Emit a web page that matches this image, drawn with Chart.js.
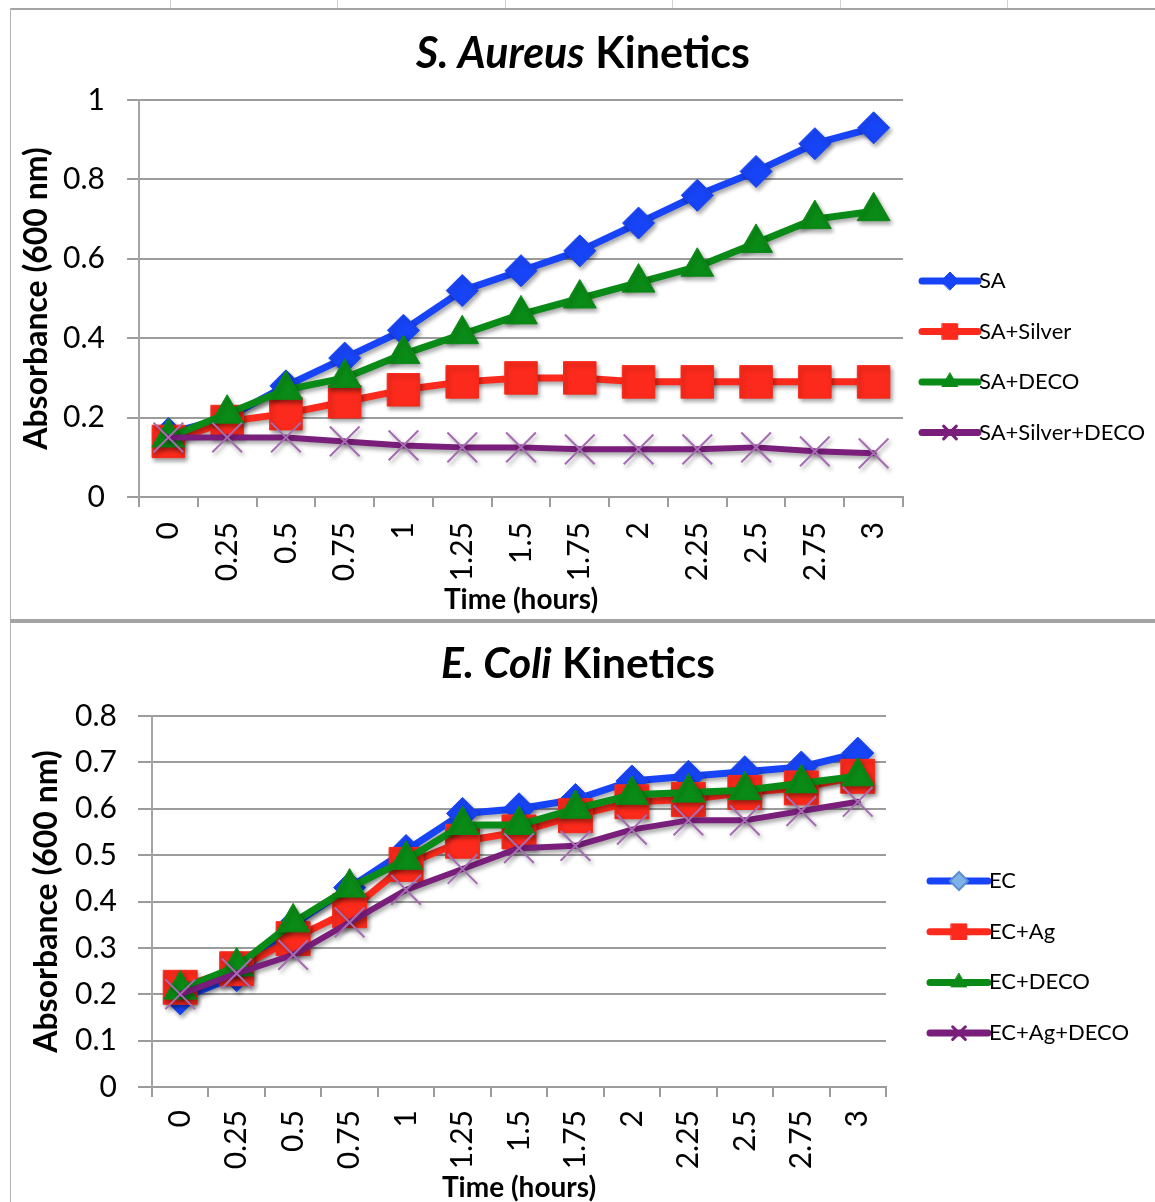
<!DOCTYPE html>
<html><head><meta charset="utf-8">
<script src="https://cdn.jsdelivr.net/npm/chart.js@4.4.0/dist/chart.umd.min.js"></script>
<style>
html,body{margin:0;padding:0;background:#fff;}
body{width:1155px;height:1202px;position:relative;overflow:hidden;}
.ln{position:absolute;}
canvas{position:absolute;}
</style></head><body>
<div class="ln" style="left:170px;top:0;width:1px;height:8px;background:#d0d0d0"></div>
<div class="ln" style="left:337px;top:0;width:1px;height:8px;background:#d0d0d0"></div>
<div class="ln" style="left:505px;top:0;width:1px;height:8px;background:#d0d0d0"></div>
<div class="ln" style="left:672px;top:0;width:1px;height:8px;background:#d0d0d0"></div>
<div class="ln" style="left:840px;top:0;width:1px;height:8px;background:#d0d0d0"></div>
<div class="ln" style="left:1007px;top:0;width:1px;height:8px;background:#d0d0d0"></div>
<div class="ln" style="left:10px;top:8px;width:1145px;height:2px;background:#a4a4a4"></div>
<div class="ln" style="left:10px;top:8px;width:1px;height:1194px;background:#b4b4b4"></div>
<div class="ln" style="left:10px;top:619px;width:1145px;height:4px;background:#a4a4a4"></div>
<canvas id="c1" width="1144" height="607" style="left:11px;top:11px"></canvas>
<canvas id="c2" width="1144" height="578" style="left:11px;top:624px"></canvas>
<script>
// ---------- data ----------
const timeLabels = ['0','0.25','0.5','0.75','1','1.25','1.5','1.75','2','2.25','2.5','2.75','3'];

const saValues          = [0.16, 0.20, 0.28, 0.35, 0.42, 0.52, 0.57, 0.62, 0.69, 0.76, 0.82, 0.89, 0.93];
const saSilverValues    = [0.14, 0.19, 0.21, 0.24, 0.27, 0.29, 0.30, 0.30, 0.29, 0.29, 0.29, 0.29, 0.29];
const saDecoValues      = [0.15, 0.21, 0.27, 0.30, 0.36, 0.41, 0.46, 0.50, 0.54, 0.58, 0.64, 0.70, 0.72];
const saSilverDecoValues= [0.15, 0.15, 0.15, 0.14, 0.13, 0.125, 0.125, 0.12, 0.12, 0.12, 0.125, 0.115, 0.11];

const ecValues          = [0.19, 0.24, 0.35, 0.43, 0.51, 0.59, 0.60, 0.62, 0.66, 0.67, 0.68, 0.69, 0.72];
const ecAgValues        = [0.215, 0.255, 0.32, 0.38, 0.48, 0.53, 0.55, 0.585, 0.615, 0.62, 0.635, 0.645, 0.67];
const ecDecoValues      = [0.21, 0.26, 0.355, 0.43, 0.49, 0.565, 0.565, 0.60, 0.63, 0.635, 0.64, 0.655, 0.67];
const ecAgDecoValues    = [0.20, 0.245, 0.285, 0.355, 0.425, 0.47, 0.515, 0.52, 0.555, 0.575, 0.575, 0.595, 0.615];

const topYTicks = [0, 0.2, 0.4, 0.6, 0.8, 1];
const topYTickLabels = ['0', '0.2', '0.4', '0.6', '0.8', '1'];
const bottomYTicks = [0, 0.1, 0.2, 0.3, 0.4, 0.5, 0.6, 0.7, 0.8];
const bottomYTickLabels = ['0', '0.1', '0.2', '0.3', '0.4', '0.5', '0.6', '0.7', '0.8'];

const topSeriesNames = ['SA', 'SA+Silver', 'SA+DECO', 'SA+Silver+DECO'];
const bottomSeriesNames = ['EC', 'EC+Ag', 'EC+DECO', 'EC+Ag+DECO'];

// ---------- styles ----------
const BLUE = '#1744f6', RED = '#fb2a1c', GREEN = '#0a8a16', PURPLE = '#7a1e7b', XPURPLE = '#a56cb2';
Chart.defaults.font.family = 'Lato';
Chart.defaults.color = '#000';

const shadowPlugin = {
  id: 'markShadow',
  beforeDatasetDraw(chart) {
    const c = chart.ctx; c.save();
    c.shadowColor = 'rgba(0,0,0,0.35)'; c.shadowBlur = 4; c.shadowOffsetX = 2; c.shadowOffsetY = 3;
  },
  afterDatasetDraw(chart) { chart.ctx.restore(); }
};

const titlePlugin = {
  id: 'mixedTitle',
  afterDraw(chart, args, o) {
    const ctx = chart.ctx; ctx.save();
    ctx.fillStyle = '#000'; ctx.textBaseline = 'alphabetic'; ctx.textAlign = 'left';
    const f1 = 'italic bold ' + o.size + 'px Lato', f2 = 'bold ' + o.size + 'px Lato';
    ctx.font = f1; const w1 = ctx.measureText(o.italic).width;
    ctx.font = f2; const w2 = ctx.measureText(o.rest).width;
    const x = o.cx - (w1 + w2) / 2;
    ctx.font = f1; ctx.fillText(o.italic, x, o.baseline);
    ctx.font = f2; ctx.fillText(o.rest, x + w1, o.baseline);
    ctx.restore();
  }
};

const legendPlugin = {
  id: 'seriesLegend',
  afterDraw(chart, args, o) {
    const ctx = chart.ctx;
    chart.data.datasets.forEach((ds, i) => {
      const y = o.y0 + i * o.gap;
      ctx.save();
      ctx.strokeStyle = ds.borderColor; ctx.lineWidth = 7; ctx.lineCap = 'round';
      ctx.beginPath(); ctx.moveTo(o.x1, y); ctx.lineTo(o.x2, y); ctx.stroke();
      ctx.fillStyle = ds.legendFill || ds.pointBackgroundColor;
      ctx.strokeStyle = ds.legendStroke || ds.pointBorderColor;
      ctx.lineWidth = ds.legendBorder || 1;
      Chart.helpers.drawPoint(ctx, {pointStyle: ds.pointStyle, radius: ds.legendRadius || 9, rotation: 0, borderWidth: ds.legendBorder || 1}, (o.x1 + o.x2) / 2, y);
      ctx.fillStyle = '#000'; ctx.font = o.font; ctx.textBaseline = 'middle'; ctx.textAlign = 'left';
      ctx.fillText(ds.label, o.x2 + 1, y);
      ctx.restore();
    });
  }
};

function series(label, data, color, style, radius, order, extra) {
  return Object.assign({
    label, data, order,
    borderColor: color, backgroundColor: color,
    borderWidth: 7, borderJoinStyle: 'round', borderCapStyle: 'round', tension: 0,
    pointStyle: style, pointRadius: radius, pointHoverRadius: radius,
    pointBackgroundColor: color, pointBorderColor: color, pointBorderWidth: 1
  }, extra || {});
}

function axes(g) {
  return {
    x: {
      offset: true,
      grid: {offset: true, drawOnChartArea: false, drawTicks: true, tickLength: 10, color: '#9c9c9c', lineWidth: 2},
      border: {display: true, color: '#9c9c9c', width: 2},
      ticks: {font: {size: 30}, color: '#000', minRotation: 90, maxRotation: 90, autoSkip: false, padding: g.xPad},
      title: {display: true, text: 'Time (hours)', color: '#000', font: {size: 28, weight: 'bold', lineHeight: 1}, padding: {top: g.xTitlePad, bottom: g.xTitlePad}},
      afterFit: s => { s.height = g.xHeight; }
    },
    y: {
      min: 0, max: g.yMax,
      afterBuildTicks: s => { s.ticks = g.yTicks.map(v => ({value: v})); },
      grid: {color: '#9c9c9c', lineWidth: 2, drawTicks: true, tickLength: g.yTickLen},
      border: {display: true, color: '#a4a4a4', width: 2},
      ticks: {font: {size: 30}, color: '#000', padding: g.yPad, callback: (v, i) => g.yLabels[i]},
      title: {display: true, text: 'Absorbance (600 nm)', color: '#000', font: {size: 32, weight: 'bold', lineHeight: 1}, padding: {top: g.yTitlePad, bottom: g.yTitlePad}},
      afterFit: s => { s.width = g.yWidth; }
    }
  };
}

// ---------- top chart ----------
new Chart(document.getElementById('c1'), {
  type: 'line',
  data: {
    labels: timeLabels,
    datasets: [
      series(topSeriesNames[0], saValues, BLUE, 'rectRot', 16, 4),
      series(topSeriesNames[1], saSilverValues, RED, 'rect', 23, 3, {legendRadius: 11}),
      series(topSeriesNames[2], saDecoValues, GREEN, 'triangle', 19, 2),
      series(topSeriesNames[3], saSilverDecoValues, PURPLE, 'crossRot', 21, 1,
        {pointBorderColor: XPURPLE, pointBorderWidth: 2, borderWidth: 6, legendStroke: PURPLE, legendBorder: 3})
    ]
  },
  options: {
    responsive: false, devicePixelRatio: 1, animation: false, events: [],
    layout: {padding: {left: 0, right: 252, top: 89, bottom: 0}},
    scales: axes({xPad: 15, xTitlePad: 4, xHeight: 121, yMax: 1, yTicks: topYTicks, yLabels: topYTickLabels, yTickLen: 12, yPad: 22, yTitlePad: 10, yWidth: 128}),
    plugins: {
      legend: {display: false}, tooltip: {enabled: false},
      mixedTitle: {italic: 'S. Aureus', rest: ' Kinetics', size: 43, cx: 572, baseline: 57},
      seriesLegend: {x1: 911, x2: 967, y0: 270, gap: 50.5, font: '22px Lato'}
    }
  },
  plugins: [shadowPlugin, titlePlugin, legendPlugin]
});

// ---------- bottom chart ----------
new Chart(document.getElementById('c2'), {
  type: 'line',
  data: {
    labels: timeLabels,
    datasets: [
      series(bottomSeriesNames[0], ecValues, BLUE, 'rectRot', 16, 4, {legendFill: '#7fb2e8', legendStroke: '#5a8fd0', legendBorder: 2}),
      series(bottomSeriesNames[1], ecAgValues, RED, 'rect', 24, 3, {legendRadius: 11}),
      series(bottomSeriesNames[2], ecDecoValues, GREEN, 'triangle', 19, 2),
      series(bottomSeriesNames[3], ecAgDecoValues, PURPLE, 'crossRot', 21, 1,
        {pointBorderColor: XPURPLE, pointBorderWidth: 2, borderWidth: 6, legendStroke: PURPLE, legendBorder: 3})
    ]
  },
  options: {
    responsive: false, devicePixelRatio: 1, animation: false, events: [],
    layout: {padding: {left: 0, right: 269, top: 92, bottom: 0}},
    scales: axes({xPad: 13, xTitlePad: 0, xHeight: 115, yMax: 0.8, yTicks: bottomYTicks, yLabels: bottomYTickLabels, yTickLen: 14, yPad: 21, yTitlePad: 20, yWidth: 141}),
    plugins: {
      legend: {display: false}, tooltip: {enabled: false},
      mixedTitle: {italic: 'E. Coli', rest: ' Kinetics', size: 42.5, cx: 567, baseline: 54},
      seriesLegend: {x1: 919, x2: 977, y0: 257, gap: 50.7, font: '22px Lato'}
    }
  },
  plugins: [shadowPlugin, titlePlugin, legendPlugin]
});
</script>
</body></html>
